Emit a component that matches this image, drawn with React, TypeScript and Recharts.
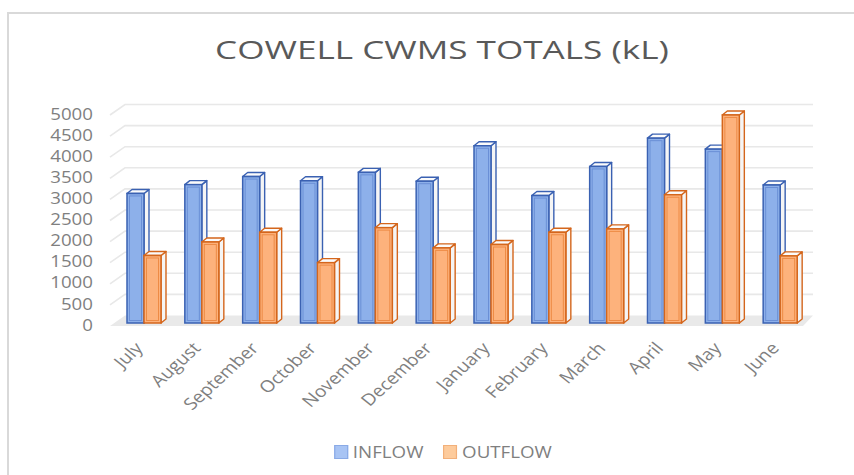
import React from 'react';
import { BarChart, Bar, XAxis, YAxis, CartesianGrid } from 'recharts';

const months = ['July', 'August', 'September', 'October', 'November', 'December', 'January', 'February', 'March', 'April', 'May', 'June'];
const inflow = [3070, 3280, 3470, 3370, 3570, 3360, 4200, 3020, 3710, 4380, 4120, 3270];
const outflow = [1600, 1920, 2150, 1430, 2260, 1780, 1860, 2150, 2230, 3040, 4930, 1590];
const yTicks = [0, 500, 1000, 1500, 2000, 2500, 3000, 3500, 4000, 4500, 5000];
const seriesNames = ['INFLOW', 'OUTFLOW'];
const titleText = 'COWELL CWMS TOTALS (kL)';

const data = months.map((m, i) => ({ month: m, inflow: inflow[i], outflow: outflow[i] }));

const FONT = '"Open Sans", "DejaVu Sans", sans-serif';
const STRETCH = 1.17;

const palette = {
  inflow: { front: '#8db0ea', edge: '#3a61b2', inner: '#6a8fd6', light: '#a8c4f4', lightEdge: '#8aaae6' },
  outflow: { front: '#fdb27c', edge: '#d4661c', inner: '#ee8b45', light: '#fdcb9c', lightEdge: '#f2b07a' },
};

const makeBar3D = (c: any) => (props: any) => {
  const { x, y, width, height } = props;
  if (!height || height <= 0) return null;
  const dx = 5;
  const dy = -4;
  const w = width;
  const h = height;
  return (
    <g>
      <polygon
        points={`${x + w},${y} ${x + w + dx},${y + dy} ${x + w + dx},${y + h + dy} ${x + w},${y + h}`}
        fill="#f5f5f5"
        stroke={c.edge}
        strokeWidth={1.4}
        strokeLinejoin="round"
      />
      <polygon
        points={`${x},${y} ${x + dx},${y + dy} ${x + w + dx},${y + dy} ${x + w},${y}`}
        fill="#fbfbfb"
        stroke={c.edge}
        strokeWidth={1.4}
        strokeLinejoin="round"
      />
      <rect x={x} y={y} width={w} height={h} fill={c.front} stroke={c.edge} strokeWidth={1.5} />
      <rect x={x + 2.5} y={y + 2.5} width={Math.max(w - 5, 0)} height={Math.max(h - 5, 0)} fill="none" stroke={c.inner} strokeWidth={1} />
    </g>
  );
};

const gridLine = (p: any) => {
  const { x1, y1, x2, key } = p;
  const isFloor = typeof p.y === 'number' && typeof p.height === 'number'
    ? Math.abs(y1 - (p.y + p.height)) < 1
    : p.index === 0;
  if (isFloor) {
    return (
      <polygon
        key={key}
        points={`${x1 - 5},${y1 + 3} ${x1 + 10},${y1 - 7.5} ${x2 + 4},${y1 - 7.5} ${x2 - 6},${y1 + 3}`}
        fill="#e9e9e9"
        stroke="none"
      />
    );
  }
  return (
    <polyline
      key={key}
      points={`${x1 - 5},${y1 + 3} ${x1 + 10},${y1 - 7.5} ${x2 + 4},${y1 - 7.5}`}
      fill="none"
      stroke="#e8e8e8"
      strokeWidth={1.6}
    />
  );
};

const YTick = (props: any) => {
  const { x, y, payload } = props;
  return (
    <g transform={`translate(${x},${y + 1.5}) scale(${1.1},1)`}>
      <text x={0} y={0} dy="0.36em" textAnchor="end" fontFamily={FONT} fontSize={17} fill="#7f7f7f">
        {payload.value}
      </text>
    </g>
  );
};

const XTick = (props: any) => {
  const { x, y, payload } = props;
  return (
    <g transform={`translate(${x},${y + 26}) scale(${STRETCH},1) rotate(-47)`}>
      <text x={0} y={0} textAnchor="end" fontFamily={FONT} fontSize={16.5} fill="#7f7f7f">
        {payload.value}
      </text>
    </g>
  );
};

export default function App() {
  const legendItems = [
    { name: seriesNames[0], c: palette.inflow },
    { name: seriesNames[1], c: palette.outflow },
  ];
  return (
    <div style={{ position: 'absolute', left: 0, top: 0, width: 854, height: 475, overflow: 'hidden', background: '#ffffff' }}>
      <div
        style={{
          position: 'absolute', left: 7, top: 12, width: 900, height: 520,
          border: '2px solid #d9d9d9', boxSizing: 'border-box',
        }}
      />
      <div
        style={{
          position: 'absolute', left: 15, top: 36, width: 854, textAlign: 'center',
          fontFamily: FONT, fontSize: 26, lineHeight: '26px', color: '#595959',
          transform: 'scaleX(1.35)', transformOrigin: '50% 50%', whiteSpace: 'nowrap',
        }}
      >
        {titleText}
      </div>
      <div style={{ position: 'absolute', left: 0, top: 0 }}>
        <BarChart
          width={854}
          height={475}
          data={data}
          margin={{ top: 112, right: 45, bottom: 122, left: 0 }}
          barGap={0}
        >
          <CartesianGrid vertical={false} horizontal={gridLine} />
          <XAxis
            dataKey="month"
            height={30}
            axisLine={false}
            tickLine={false}
            tickSize={0}
            tickMargin={0}
            interval={0}
            tick={<XTick />}
          />
          <YAxis
            width={115}
            domain={[0, 5000]}
            ticks={yTicks}
            axisLine={false}
            tickLine={false}
            tickSize={0}
            tickMargin={22}
            interval={0}
            tick={<YTick />}
          />
          <Bar dataKey="inflow" name={seriesNames[0]} barSize={17} isAnimationActive={false} shape={makeBar3D(palette.inflow)} />
          <Bar dataKey="outflow" name={seriesNames[1]} barSize={17} isAnimationActive={false} shape={makeBar3D(palette.outflow)} />
        </BarChart>
      </div>
      <div
        style={{
          position: 'absolute', left: 16, top: 443, width: 854, display: 'flex', justifyContent: 'center',
          alignItems: 'center', transform: `scaleX(${STRETCH})`, transformOrigin: '50% 50%',
          fontFamily: FONT, fontSize: 16, lineHeight: '18px', color: '#7f7f7f',
        }}
      >
        {legendItems.map((it, i) => (
          <div key={it.name} style={{ display: 'flex', alignItems: 'center', marginLeft: i === 0 ? 0 : 17 }}>
            <span
              style={{
                display: 'inline-block', width: 10, height: 12, background: it.c.light,
                border: `1px solid ${it.c.lightEdge}`, marginRight: 4,
              }}
            />
            <span>{it.name}</span>
          </div>
        ))}
      </div>
    </div>
  );
}
